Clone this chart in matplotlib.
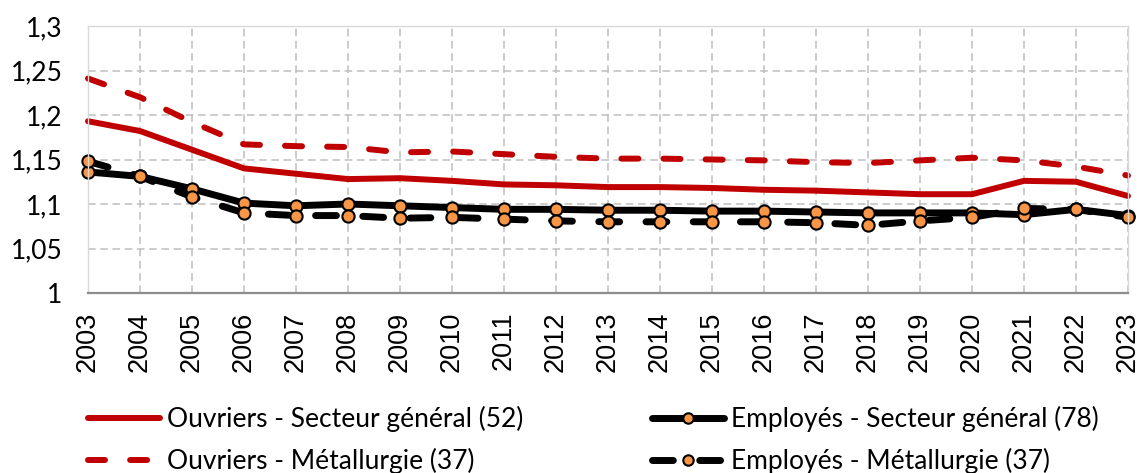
import matplotlib
matplotlib.use("Agg")
import matplotlib.pyplot as plt

# values
years = list(range(2003, 2024))
ouvriers_general = [1.193, 1.182, 1.161, 1.140, 1.134, 1.128, 1.129, 1.126, 1.122, 1.121,
                    1.119, 1.119, 1.118, 1.116, 1.115, 1.113, 1.111, 1.111, 1.126, 1.125, 1.109]
ouvriers_metal = [1.241, 1.220, 1.192, 1.167, 1.165, 1.164, 1.158, 1.159, 1.156, 1.153,
                  1.151, 1.151, 1.150, 1.149, 1.147, 1.146, 1.149, 1.152, 1.149, 1.142, 1.132]
employes_general = [1.136, 1.131, 1.117, 1.101, 1.098, 1.100, 1.098, 1.096, 1.094, 1.094,
                    1.093, 1.093, 1.092, 1.092, 1.091, 1.090, 1.090, 1.090, 1.088, 1.094, 1.087]
employes_metal = [1.148, 1.131, 1.108, 1.090, 1.087, 1.087, 1.084, 1.085, 1.083, 1.081,
                  1.080, 1.080, 1.080, 1.080, 1.079, 1.076, 1.081, 1.085, 1.095, 1.094, 1.085]

labels = ["Ouvriers - Secteur général (52)", "Employés - Secteur général (78)",
          "Ouvriers - Métallurgie (37)", "Employés - Métallurgie (37)"]
yticks = [1, 1.05, 1.1, 1.15, 1.2, 1.25, 1.3]
ytick_labels = ["1", "1,05", "1,1", "1,15", "1,2", "1,25", "1,3"]

RED = "#C00000"
ORANGE = "#F79646"
W, H = 1142, 473

fig = plt.figure(figsize=(W / 100, H / 100), dpi=100)
ax = fig.add_axes([88 / W, 1 - 293 / H, (1128 - 88) / W, (293 - 26) / H])

red_kw = dict(color=RED, lw=4.3, solid_capstyle="round", dash_capstyle="round",
              clip_on=False)
blk_kw = dict(color="black", lw=5, marker="o", markersize=8.8, markerfacecolor=ORANGE,
              markeredgecolor="black", markeredgewidth=1.5, solid_capstyle="round",
              dash_capstyle="round", clip_on=False)

l_og, = ax.plot(years, ouvriers_general, **red_kw)
l_eg, = ax.plot(years, employes_general, **blk_kw)
l_om, = ax.plot(years, ouvriers_metal, **red_kw)
l_om.set_dashes((2.85, 4.2))
l_em, = ax.plot(years, employes_metal, **blk_kw)
l_em.set_dashes((3.0, 3.8))

ax.set_xlim(2003, 2023)
ax.set_ylim(1, 1.3)
ax.set_xticks(years)
ax.set_xticklabels([str(y) for y in years], rotation=90, family="Liberation Sans",
                   fontsize=19.5)
ax.set_yticks(yticks)
ax.set_yticklabels(ytick_labels, family="Lato", fontsize=19)
ax.tick_params(axis="x", length=0, pad=13.5)
ax.tick_params(axis="y", length=0, pad=18.5)

ax.grid(True, color="#BFBFBF", linestyle=(0, (5, 3)), lw=1.1)
ax.set_axisbelow(True)
for side in ("left", "top", "right"):
    ax.spines[side].set_color("#D9D9D9")
    ax.spines[side].set_linewidth(1.0)
ax.spines["bottom"].set_color("#8C8C8C")
ax.spines["bottom"].set_linewidth(1.6)

# two single-column legends so each column sits where the reference has it
leg_kw = dict(loc="upper left", frameon=False, borderpad=0, borderaxespad=0,
              handlelength=2.73, handletextpad=0.25, labelspacing=0.6,
              markerscale=0.85, prop={"family": "Lato", "size": 19})
fig.legend([l_og, l_om], [labels[0], labels[2]],
           bbox_to_anchor=(88 / W, 1 - 406 / H), **leg_kw)
fig.legend([l_eg, l_em], [labels[1], labels[3]],
           bbox_to_anchor=(652 / W, 1 - 406 / H), **leg_kw)

fig.savefig("out.png", dpi=100)
